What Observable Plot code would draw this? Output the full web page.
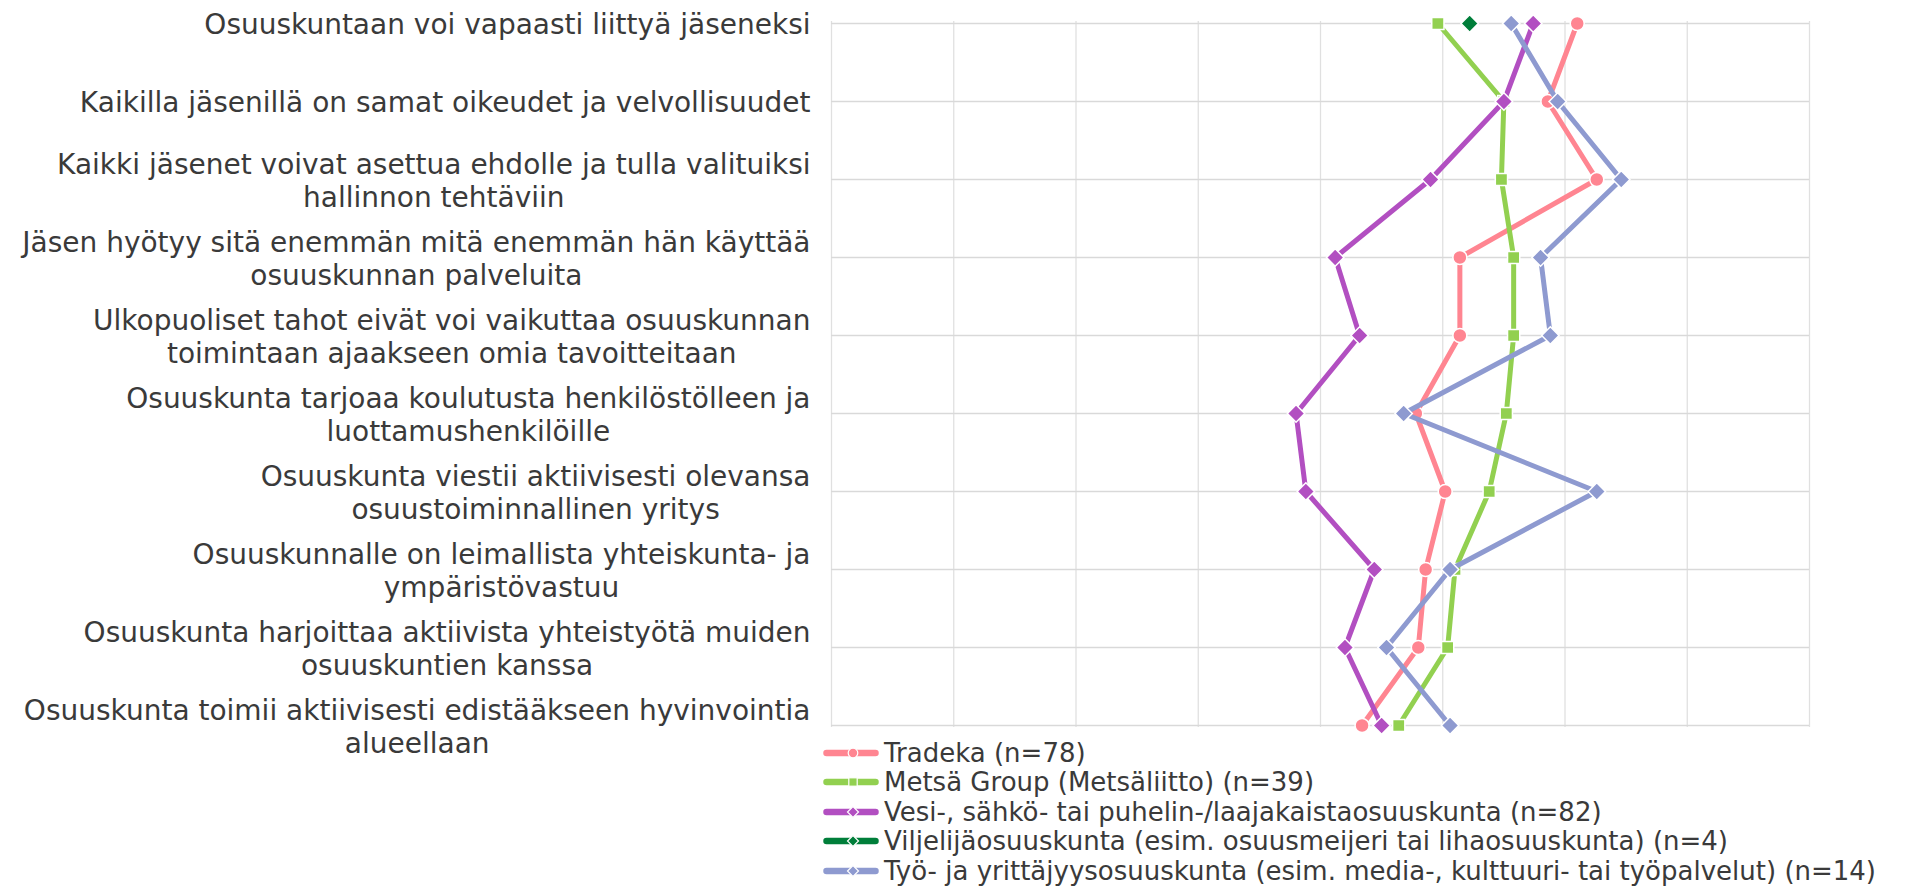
<!DOCTYPE html>
<html>
<head>
<meta charset="utf-8">
<script src="https://cdn.jsdelivr.net/npm/d3@7"></script>
<script src="https://cdn.jsdelivr.net/npm/@observablehq/plot@0.6"></script>
<style>
  html, body { margin: 0; padding: 0; background: #ffffff; }
  body { font-family: "DejaVu Sans", Verdana, sans-serif; color: #3a3a3a; }
  #legend { margin-left: 823px; margin-top: -1px; }
  .lrow { height: 29.5px; display: flex; align-items: center; font-size: 26px; white-space: nowrap; }
  .lrow svg { margin-right: 1px; flex: none; }
</style>
</head>
<body>
<div id="chart"></div>
<div id="legend"></div>
<script>
// ---- Data ----
const categories = [
  "Osuuskuntaan voi vapaasti liittyä jäseneksi",
  "Kaikilla jäsenillä on samat oikeudet ja velvollisuudet",
  "Kaikki jäsenet voivat asettua ehdolle ja tulla valituiksi\nhallinnon tehtäviin",
  "Jäsen hyötyy sitä enemmän mitä enemmän hän käyttää\nosuuskunnan palveluita",
  "Ulkopuoliset tahot eivät voi vaikuttaa osuuskunnan\ntoimintaan ajaakseen omia tavoitteitaan",
  "Osuuskunta tarjoaa koulutusta henkilöstölleen ja\nluottamushenkilöille",
  "Osuuskunta viestii aktiivisesti olevansa\nosuustoiminnallinen yritys",
  "Osuuskunnalle on leimallista yhteiskunta- ja\nympäristövastuu",
  "Osuuskunta harjoittaa aktiivista yhteistyötä muiden\nosuuskuntien kanssa",
  "Osuuskunta toimii aktiivisesti edistääkseen hyvinvointia\nalueellaan"
];

const seriesNames = [
  "Tradeka (n=78)",
  "Metsä Group (Metsäliitto) (n=39)",
  "Vesi-, sähkö- tai puhelin-/laajakaistaosuuskunta (n=82)",
  "Viljelijäosuuskunta (esim. osuusmeijeri tai lihaosuuskunta) (n=4)",
  "Työ- ja yrittäjyysosuuskunta (esim. media-, kulttuuri- tai työpalvelut) (n=14)"
];

const tradeka   = [4.05, 3.93, 4.13, 3.57, 3.57, 3.39, 3.51, 3.43, 3.40, 3.17];
const metsa     = [3.48, 3.75, 3.74, 3.79, 3.79, 3.76, 3.69, 3.55, 3.52, 3.32];
const vesi      = [3.87, 3.75, 3.45, 3.06, 3.16, 2.90, 2.94, 3.22, 3.10, 3.25];
const viljelija = [3.61, null, null, null, null, null, null, null, null, null];
const tyo       = [3.78, 3.97, 4.23, 3.90, 3.94, 3.34, 4.13, 3.53, 3.27, 3.53];

const xDomain = [1, 5];
const xGridTicks = [1, 1.5, 2, 2.5, 3, 3.5, 4, 4.5, 5];

// ---- Styles ----
const seriesValues = [tradeka, metsa, vesi, viljelija, tyo];
const seriesColors = ["#ff8591", "#92d050", "#b24fc1", "#007e3a", "#8e9ad0"];
const seriesSymbols = ["circle", "square", "diamond2", "diamond2", "diamond2"];
const symbolR = {circle: 7, square: 6.9, diamond2: 7.8};

const rows = [];
seriesNames.forEach((name, s) => {
  seriesValues[s].forEach((v, i) => {
    if (v != null) rows.push({series: name, category: categories[i], value: v});
  });
});

// measure label widths to center each wrapped label block, right-aligned
const labelFont = 28;
const labelRight = 810;
const ctx = document.createElement("canvas").getContext("2d");
ctx.font = `${labelFont}px "DejaVu Sans"`;
const labelWidth = s => Math.max(...s.split("\n").map(l => ctx.measureText(l).width));

const seriesMarks = seriesNames.flatMap((name, s) => {
  const d = rows.filter(r => r.series === name);
  return [
    Plot.line(d, {x: "value", y: "category", stroke: seriesColors[s], strokeWidth: 5,
      strokeLinejoin: "round", strokeLinecap: "round"}),
    Plot.dot(d, {x: "value", y: "category", symbol: seriesSymbols[s], r: symbolR[seriesSymbols[s]],
      fill: seriesColors[s], stroke: "#ffffff", strokeWidth: 1.5})
  ];
});

const chart = Plot.plot({
  width: 1911,
  height: 739,
  marginLeft: 831,
  marginRight: 102,
  marginTop: 21,
  marginBottom: 12,
  style: {fontFamily: "DejaVu Sans", background: "#ffffff", overflow: "visible"},
  x: {domain: xDomain, axis: null},
  y: {type: "point", domain: categories, padding: 0, axis: null},
  marks: [
    Plot.ruleX(xGridTicks, {x: d => d, stroke: "#e0e0e0", strokeWidth: 1.3}),
    Plot.ruleY(categories, {y: d => d, stroke: "#d9d9d9", strokeWidth: 1.7}),
    ...seriesMarks,
    Plot.text(categories, {
      y: d => d,
      text: d => d,
      frameAnchor: "left",
      textAnchor: "middle",
      lineAnchor: "middle",
      lineHeight: 1.19,
      fontSize: labelFont,
      fill: "#3a3a3a",
      render(index, scales, values, dimensions, context, next) {
        const g = next(index, scales, values, dimensions, context);
        const texts = g.querySelectorAll("text");
        texts.forEach((t, j) => {
          const i = index[j];
          const w = labelWidth(categories[i]);
          t.setAttribute("transform", `translate(${labelRight - w / 2},${values.y[i]})`);
        });
        return g;
      }
    })
  ]
});
document.getElementById("chart").appendChild(chart);

// ---- Legend ----
const legend = d3.select("#legend");
seriesNames.forEach((name, s) => {
  const row = legend.append("div").attr("class", "lrow");
  const svg = row.append("svg").attr("width", 60).attr("height", 20);
  svg.append("line").attr("x1", 3.5).attr("x2", 52.5).attr("y1", 10).attr("y2", 10)
    .attr("stroke", seriesColors[s]).attr("stroke-width", 6.5).attr("stroke-linecap", "round");
  const cx = 30, cy = 10;
  if (seriesSymbols[s] === "circle") {
    svg.append("circle").attr("cx", cx).attr("cy", cy).attr("r", 4.8)
      .attr("fill", seriesColors[s]).attr("stroke", "#fff").attr("stroke-width", 1.2);
  } else if (seriesSymbols[s] === "square") {
    svg.append("rect").attr("x", cx - 4.2).attr("y", cy - 4.2).attr("width", 8.4).attr("height", 8.4)
      .attr("fill", seriesColors[s]).attr("stroke", "#fff").attr("stroke-width", 1.2);
  } else {
    svg.append("path").attr("d", `M${cx},${cy - 5.5}L${cx + 5.5},${cy}L${cx},${cy + 5.5}L${cx - 5.5},${cy}Z`)
      .attr("fill", seriesColors[s]).attr("stroke", "#fff").attr("stroke-width", 1.2);
  }
  row.append("span").text(name);
});
</script>
</body>
</html>
